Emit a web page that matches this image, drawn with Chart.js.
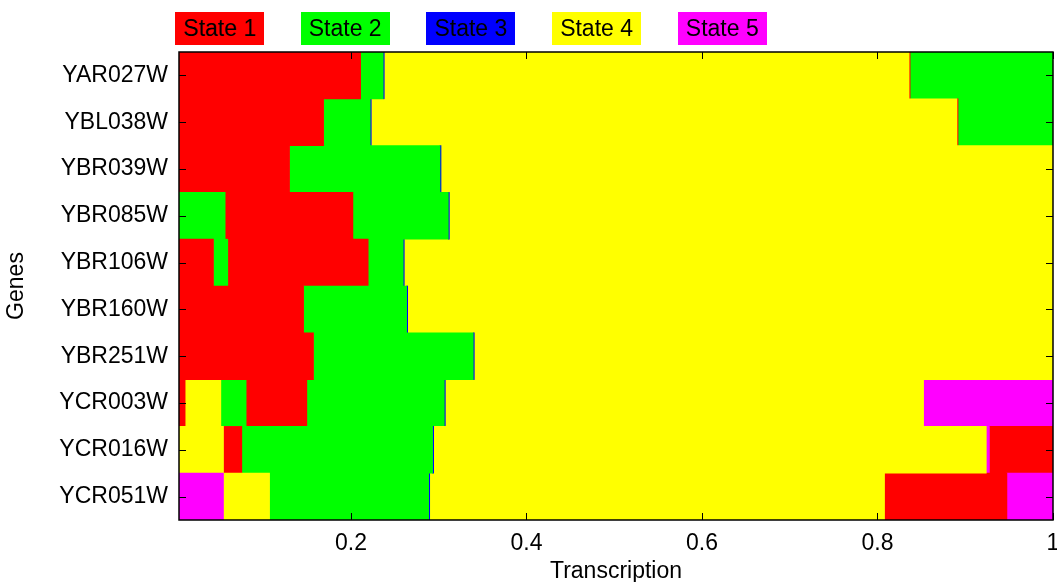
<!DOCTYPE html>
<html>
<head>
<meta charset="utf-8">
<title>Gene state paths</title>
<script src="https://cdn.jsdelivr.net/npm/chart.js@4.4.1/dist/chart.umd.min.js"></script>
<style>
  html, body { margin: 0; padding: 0; background: #fff; }
  #wrap { position: relative; width: 1057px; height: 582px; overflow: hidden; }
  #chart { position: absolute; left: 0; top: 0; }
  .key {
    position: absolute; top: 12px; width: 89px; height: 33px;
    display: flex; align-items: center; justify-content: center;
    font: 23px "Liberation Sans", Arial, sans-serif; color: #000;
  }
</style>
</head>
<body>
<div id="wrap">
  <canvas id="chart" width="1057" height="582"></canvas>
</div>
<script>
// Genes, top to bottom
const genes = ['YAR027W', 'YBL038W', 'YBR039W', 'YBR085W', 'YBR106W',
               'YBR160W', 'YBR251W', 'YCR003W', 'YCR016W', 'YCR051W'];

const stateNames = ['State 1', 'State 2', 'State 3', 'State 4', 'State 5'];
const stateColors = ['#ff0000', '#00ff00', '#0000ff', '#ffff00', '#ff00ff'];

// Transcription axis range and tick values
const xStart = 0.004;
const xEnd = 1;
const xTicks = [0.2, 0.4, 0.6, 0.8, 1];

// For each gene: the sequence of states along transcription ...
const segStates = [
  [1, 2, 3, 4, 1, 2],
  [1, 2, 3, 4, 1, 2],
  [1, 2, 3, 4],
  [2, 1, 2, 3, 4],
  [1, 2, 1, 2, 3, 4],
  [1, 2, 3, 4],
  [1, 2, 3, 4],
  [1, 4, 2, 1, 2, 3, 4, 5],
  [4, 1, 2, 3, 4, 5, 1],
  [5, 4, 2, 3, 4, 1, 5]
];

// ... and where each state ends
const segEnds = [
  [0.211, 0.2367, 0.2379, 0.8360, 0.8372, 1],
  [0.1688, 0.2219, 0.2231, 0.8906, 0.8918, 1],
  [0.130, 0.3014, 0.3026, 1],
  [0.0566, 0.2022, 0.3109, 0.3121, 1],
  [0.0433, 0.0596, 0.2196, 0.2595, 0.2607, 1],
  [0.146, 0.2634, 0.2646, 1],
  [0.1573, 0.3393, 0.3405, 1],
  [0.011, 0.0517, 0.0805, 0.1497, 0.3063, 0.3075, 0.8525, 1],
  [0.0547, 0.0756, 0.293, 0.2942, 0.924, 0.9275, 1],
  [0.0547, 0.1072, 0.2885, 0.2897, 0.808, 0.9475, 1]
];

// One floating-bar dataset per segment slot; each bar coloured by its state
const maxSegs = Math.max(...segStates.map(s => s.length));
const datasets = [];
for (let k = 0; k < maxSegs; k++) {
  datasets.push({
    data: genes.map((g, i) => k < segStates[i].length
      ? [k === 0 ? xStart : segEnds[i][k - 1], segEnds[i][k]]
      : null),
    backgroundColor: genes.map((g, i) => k < segStates[i].length
      ? stateColors[segStates[i][k] - 1] : 'rgba(0,0,0,0)'),
    borderWidth: 0,
    borderSkipped: false,
    grouped: false,
    barPercentage: 1,
    categoryPercentage: 1
  });
}

// Box around the plot with inward-pointing tick marks on all four sides
const framePlugin = {
  id: 'frame',
  afterDatasetsDraw(chart) {
    const { ctx, chartArea: a, scales: { x, y } } = chart;
    const tl = 7;
    ctx.save();
    ctx.strokeStyle = '#000';
    ctx.lineWidth = 1;
    ctx.beginPath();
    x.ticks.forEach(t => {
      const px = Math.round(x.getPixelForValue(t.value)) + 0.5;
      ctx.moveTo(px, a.bottom); ctx.lineTo(px, a.bottom - tl);
      ctx.moveTo(px, a.top); ctx.lineTo(px, a.top + tl);
    });
    y.ticks.forEach((t, i) => {
      const py = Math.round(y.getPixelForTick(i)) + 0.5;
      ctx.moveTo(a.left, py); ctx.lineTo(a.left + tl, py);
      ctx.moveTo(a.right, py); ctx.lineTo(a.right - tl, py);
    });
    ctx.stroke();
    ctx.lineWidth = 1.5;
    ctx.strokeRect(a.left, a.top, a.right - a.left, a.bottom - a.top);
    ctx.restore();
  }
};

const font = { family: '"Liberation Sans", Arial, sans-serif', size: 23 };

const chart = new Chart(document.getElementById('chart'), {
  type: 'bar',
  data: { labels: genes, datasets },
  options: {
    indexAxis: 'y',
    responsive: false,
    animation: false,
    devicePixelRatio: 1,
    layout: { padding: { left: 0, top: 52, right: 4, bottom: 0 } },
    plugins: { legend: { display: false }, tooltip: { enabled: false } },
    scales: {
      x: {
        type: 'linear',
        min: xStart,
        max: xEnd,
        grid: { display: false, drawTicks: false },
        border: { display: false },
        afterBuildTicks: s => { s.ticks = xTicks.map(v => ({ value: v })); },
        afterFit: s => { s.height = 62; s.paddingLeft = 0; s.paddingRight = 0; },
        ticks: {
          color: '#000', font, padding: 10, maxRotation: 0,
          callback: v => String(v)
        },
        title: {
          display: true, text: 'Transcription', color: '#000', font,
          padding: { top: 0, bottom: -3 }
        }
      },
      y: {
        type: 'category',
        grid: { display: false, drawTicks: false },
        border: { display: false },
        afterFit: s => { s.width = 179; s.paddingTop = 0; s.paddingBottom = 0; },
        ticks: { color: '#000', font, padding: 11 },
        title: {
          display: true, text: 'Genes', color: '#000', font,
          padding: { top: 3, bottom: 0 }
        }
      }
    }
  },
  plugins: [framePlugin]
});

// Legend: a coloured key box per state, above the plot
const wrap = document.getElementById('wrap');
stateNames.forEach((name, i) => {
  const el = document.createElement('div');
  el.className = 'key';
  el.style.left = (175 + i * 125.7) + 'px';
  el.style.background = stateColors[i];
  el.textContent = name;
  wrap.appendChild(el);
});
</script>
</body>
</html>
